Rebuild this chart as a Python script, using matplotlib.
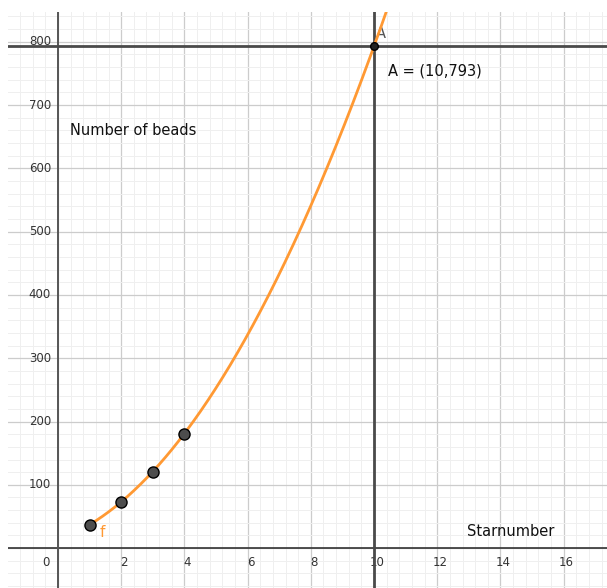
import numpy as np
import matplotlib
matplotlib.use("Agg")
import matplotlib.pyplot as plt
from matplotlib.ticker import MultipleLocator

# star numbers (beads) for the first few stars
star_x = [1, 2, 3, 4]
beads = [37, 73, 121, 181]

point_a = (10, 793)

x_labels = [2, 4, 6, 8, 10, 12, 14, 16]
y_labels = [100, 200, 300, 400, 500, 600, 700, 800]

orange = '#ff9933'
dark = '#4a4a4a'

fig = plt.figure(figsize=(6.07, 5.88), dpi=100)
ax = fig.add_axes([8 / 607, 0, 599 / 607, 576 / 588])

ax.set_xlim(-1.58, 17.37)
ax.set_ylim(-63, 847)

# grid like geogebra
ax.xaxis.set_major_locator(MultipleLocator(2))
ax.xaxis.set_minor_locator(MultipleLocator(0.4))
ax.yaxis.set_major_locator(MultipleLocator(100))
ax.yaxis.set_minor_locator(MultipleLocator(20))
ax.grid(which='major', color='#cccccc', lw=0.9, zorder=0)
ax.grid(which='minor', color='#efefef', lw=0.7, zorder=0)
ax.tick_params(which='both', length=0, labelbottom=False, labelleft=False)
for s in ax.spines.values():
    s.set_visible(False)

# axes
ax.axhline(0, color='#333333', lw=1.2, zorder=2)
ax.axvline(0, color='#555555', lw=1.4, zorder=2)

# tick labels along the axes
for v in x_labels:
    ax.annotate(str(v), (v, 0), xytext=(2, -10), textcoords='offset points',
                ha='center', va='center', fontsize=8.5, color='#333333')
for v in y_labels:
    ax.annotate(str(v), (0, v), xytext=(-5, 0), textcoords='offset points',
                ha='right', va='center', fontsize=8.5, color='#333333')
ax.annotate('0', (0, 0), xytext=(-9, -10), textcoords='offset points',
            ha='center', va='center', fontsize=8.5, color='#333333')

# lines through A
ax.axvline(point_a[0], color=dark, lw=2, zorder=3)
ax.axhline(point_a[1], color=dark, lw=2, zorder=3)

# quadratic through the points
coef = np.polyfit(star_x, beads, 2)
xs = np.linspace(star_x[0], 11, 300)
ax.plot(xs, np.polyval(coef, xs), color=orange, lw=2, zorder=4)

ax.plot(star_x, beads, 'o', ms=8, mfc='#4d4d4d', mec='black', mew=1, zorder=5)
ax.plot(*point_a, 'o', ms=5.5, mfc='#222222', mec='black', zorder=6)

ax.text(1.39, 24, 'f', color=orange, fontsize=11, ha='center', va='center')
ax.text(10.22, 813, 'A', color='#555555', fontsize=10.5, ha='center', va='center')
ax.text(10.44, 753, 'A = (10,793)', fontsize=10.5, ha='left', va='center', color='#111111')
ax.text(0.38, 660, 'Number of beads', fontsize=10.5, ha='left', va='center', color='#111111')
ax.text(12.94, 27, 'Starnumber', fontsize=10.5, ha='left', va='center', color='#111111')

fig.savefig('out.png', dpi=100)
